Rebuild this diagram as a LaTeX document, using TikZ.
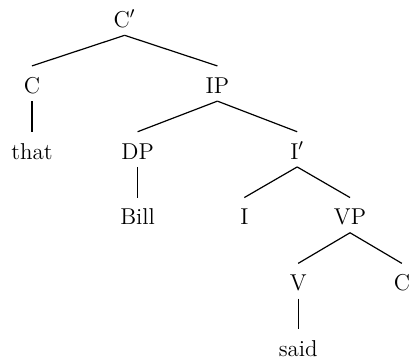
\documentclass[tikz,border=0pt]{standalone}
\usepackage{tikz}
\tikzset{cat_node/.style={inner xsep=0pt, inner ysep=2.5pt, text height=11pt, text depth=1.25pt, font=\fontsize{11.5}{13}\selectfont}}
\tikzstyle{branch} = [line width=.6pt]

\begin{document}
\begin{tikzpicture}[node distance=33pt]
				\node[cat_node](Cbar){C$'$};
				\node[cat_node, below of=Cbar, xshift=-46.5pt](C) {C};
				\node[cat_node, below of=Cbar, xshift=46.5pt](IP) {IP};
				\node[cat_node, below of=C](that) {that};
				\node[cat_node, below of=IP, xshift=-40pt](DP) {DP};
				\node[cat_node, below of=IP, xshift=40pt](Ibar) {I$'$};
				\node[cat_node, below of=DP](Bill) {Bill};
				\node[cat_node, below of=Ibar, xshift=-26.5pt](I) {I};
				\node[cat_node, below of=Ibar, xshift=26.5pt](VP) {VP};
				\node[cat_node, below of=VP, xshift=-26pt](V) {V};
				\node[cat_node, below of=VP, xshift=26pt](C2) {C};
				\node[cat_node, below of=V](said) {said};

				\useasboundingbox (Cbar.center) ++(-62.5pt,8.875pt) rectangle ++(205pt,-181.5pt);

				% draw lines
				\draw[branch] (Cbar.south) -- (C.north);
				\draw[branch] (Cbar.south) -- (IP.north);
				\draw[branch] (C.south) -- (that.north);
				\draw[branch] (IP.south) -- (DP.north);
				\draw[branch] (IP.south) -- (Ibar.north);
				\draw[branch] (DP.south) -- (Bill.north);
				\draw[branch] (Ibar.south) -- (I.north);
				\draw[branch] (Ibar.south) -- (VP.north);
				\draw[branch] (VP.south) -- (V.north);
				\draw[branch] (VP.south) -- (C2.north);
				\draw[branch] (V.south) -- (said.north);
\end{tikzpicture}
\end{document}
